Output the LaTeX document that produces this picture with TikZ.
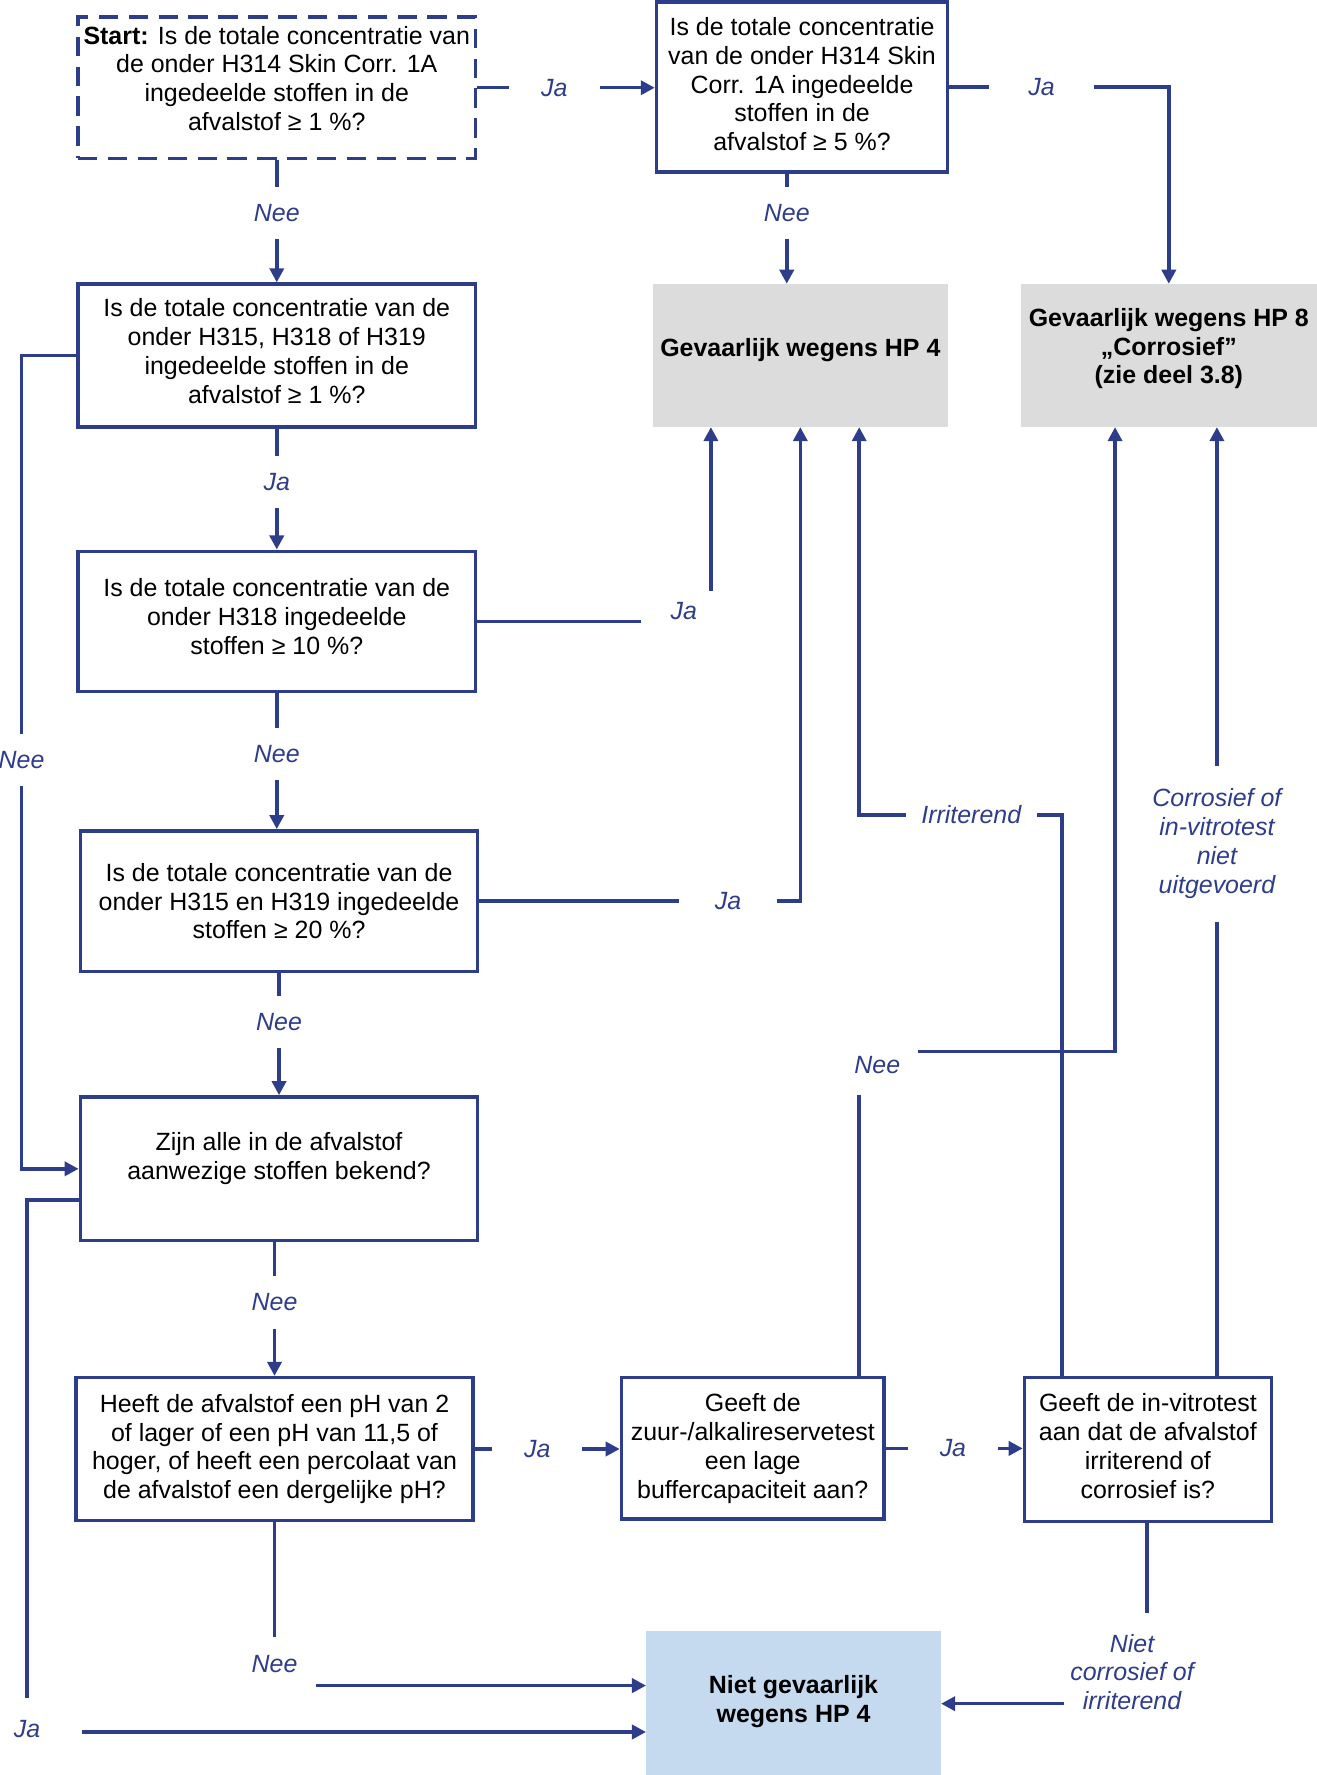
\documentclass[tikz,border=0pt]{standalone}
\usepackage{fontspec}
\setmainfont{Liberation Sans}
\usetikzlibrary{arrows.meta,calc}
\definecolor{LineClr}{RGB}{46,61,138}
\definecolor{GreyClr}{RGB}{220,220,220}
\definecolor{BlueClr}{RGB}{197,218,238}
\newcommand\pxl{0.022648cm}

\begin{document}
\begin{tikzpicture}[x=\pxl,y=-\pxl,
  every node/.style={font=\fontsize{14.2}{16.4}\selectfont,align=center,inner sep=2pt},
  qbox/.style={draw=LineClr,line width=2pt,fill=white},
  endbox/.style={fill=#1,font=\fontsize{14.2}{16.4}\selectfont\bfseries},
  conn/.style={draw=LineClr,line width=2pt,-{Triangle[length=8pt,width=8pt]}},
  lbl/.style={fill=white,inner sep=0pt,text=LineClr,font=\fontsize{14.2}{16.4}\selectfont\itshape,
    minimum width=80*\pxl,minimum height=46*\pxl}]
\useasboundingbox (0,0) rectangle (1163,1568);

\node[qbox,dashed,dash pattern=on 11pt off 6pt,minimum width=351*\pxl,minimum height=125*\pxl,text depth=10.8pt] (start) at (244.5,77.5)
  {\textbf{Start:} Is de totale concentratie van\\de onder H314 Skin Corr. 1A\\ingedeelde stoffen in de\\afvalstof ≥ 1 \%?};
\node[qbox,minimum width=257*\pxl,minimum height=150*\pxl,text depth=3.6pt] (q5) at (708.5,77)
  {Is de totale concentratie\\van de onder H314 Skin\\Corr. 1A ingedeelde\\stoffen in de\\afvalstof ≥ 5 \%?};
\node[endbox=GreyClr,minimum width=260*\pxl,minimum height=126*\pxl,text depth=9.4pt] (hp4) at (707,314) {Gevaarlijk wegens HP 4};
\node[endbox=GreyClr,minimum width=261*\pxl,minimum height=126*\pxl,text depth=10.8pt] (hp8) at (1032.5,314)
  {Gevaarlijk wegens HP 8\\„Corrosief”\\(zie deel 3.8)};
\node[qbox,minimum width=351*\pxl,minimum height=126*\pxl,text depth=5pt] (q1) at (244.5,314)
  {Is de totale concentratie van de\\onder H315, H318 of H319\\ingedeelde stoffen in de\\afvalstof ≥ 1 \%?};
\node[qbox,minimum width=351*\pxl,minimum height=124*\pxl,text depth=5.7pt] (q10) at (244.5,549)
  {Is de totale concentratie van de\\onder H318 ingedeelde\\stoffen ≥ 10 \%?};
\node[qbox,minimum width=351*\pxl,minimum height=124*\pxl] (q20) at (246.5,796)
  {Is de totale concentratie van de\\onder H315 en H319 ingedeelde\\stoffen ≥ 20 \%?};
\node[qbox,minimum width=351*\pxl,minimum height=127*\pxl,text depth=14.6pt] (known) at (246.5,1032.5)
  {Zijn alle in de afvalstof\\aanwezige stoffen bekend?};
\node[qbox,minimum width=351*\pxl,minimum height=126*\pxl] (ph) at (242.5,1280)
  {Heeft de afvalstof een pH van 2\\of lager of een pH van 11,5 of\\hoger, of heeft een percolaat van\\de afvalstof een dergelijke pH?};
\node[qbox,minimum width=232*\pxl,minimum height=125*\pxl] (buf) at (665,1279.5)
  {Geeft de\\zuur-/alkalireservetest\\een lage\\buffercapaciteit aan?};
\node[qbox,minimum width=218*\pxl,minimum height=127*\pxl,text depth=4pt] (vitro) at (1014,1280.5)
  {Geeft de in-vitrotest\\aan dat de afvalstof\\irriterend of\\corrosief is?};
\node[endbox=BlueClr,minimum width=260*\pxl,minimum height=129*\pxl,text depth=6pt] (safe) at (701,1505.5)
  {Niet gevaarlijk\\wegens HP 4};

\coordinate (nx) at (695,0);
\coordinate (lx) at (19,0);
\coordinate (ja0) at (24,1060);
\coordinate (ja1) at (24,1530);
\coordinate (ny) at (0,1489);
\coordinate (nj) at (759,929);
\coordinate (nd) at (985,929);
\coordinate (ir1) at (938,720);
\coordinate (ir2) at (759,720);
\coordinate (cx) at (1075,0);
\coordinate (nc) at (1013,1505);
\coordinate (j10) at (628,549);

\draw[conn] (start.east) -- node[lbl,pos=.434]{Ja} (start.east -| q5.west);
\draw[conn] (q5.east) -- node[lbl,pos=.42,minimum width=93*\pxl]{Ja} (q5.east -| hp8.north) -- (hp8.north);
\draw[conn] (start.south) -- node[lbl,pos=.43]{Nee} (q1.north);
\draw[conn] (q5.south -| nx) -- node[lbl,pos=.36]{Nee} (hp4.north -| nx);
\draw[conn] (q1.south) -- node[lbl,pos=.445]{Ja} (q10.north);
\draw[conn] (q10.south) -- node[lbl,pos=.447]{Nee} (q10.south |- q20.north);
\draw[conn] (q20.south) -- node[lbl,pos=.40]{Nee} (known.north);
\draw[conn] (known.south -| ph.north) -- node[lbl,pos=.45]{Nee} (ph.north);
\draw[conn] (q1.west) -- (q1.west -| lx) -- node[lbl,pos=.497]{Nee} (known.west -| lx) -- (known.west);
\draw[conn] (known.west |- ja0) -- (ja0) -- (ja1)
  node[lbl,yshift=3*\pxl,minimum width=96*\pxl,minimum height=54*\pxl]{Ja} -- (safe.west |- ja1);
\draw[conn] (ph.south) -- (ph.south |- ny)
  node[lbl,yshift=19*\pxl,minimum width=74*\pxl,minimum height=48*\pxl]{Nee} -- (safe.west |- ny);
\draw[conn] (ph.east) -- node[lbl,pos=.43]{Ja} (ph.east -| buf.west);
\draw[conn] (buf.east) -- node[lbl,pos=.49]{Ja} (buf.east -| vitro.west);
\draw[conn] (buf.north -| nj) -- (nj)
  node[lbl,xshift=16*\pxl,yshift=-12*\pxl,minimum width=72*\pxl,minimum height=52*\pxl]{Nee} -- (nd) -- (hp8.south -| nd);
\draw[conn] (vitro.north -| ir1) -- (ir1) -- node[lbl,pos=.447,minimum width=116*\pxl]{Irriterend} (ir2) -- (hp4.south -| ir2);
\draw[conn] (vitro.north -| cx) -- node[lbl,pos=.561,minimum width=130*\pxl,minimum height=138*\pxl]
  {Corrosief of\\in-vitrotest\\niet\\uitgevoerd} (hp8.south -| cx);
\draw[conn] (vitro.south -| nc) -- (nc)
  node[lbl,xshift=-13*\pxl,yshift=28*\pxl,minimum width=120*\pxl,minimum height=104*\pxl]{Niet\\corrosief of\\irriterend} -- (safe.east |- nc);
\draw[conn] (q10.east) -- (q10.east -| j10)
  node[lbl,xshift=-24*\pxl,yshift=9*\pxl,minimum width=76*\pxl,minimum height=36*\pxl]{Ja} -- (hp4.south -| j10);
\draw[conn] (q20.east) -- node[lbl,pos=.775,minimum width=86*\pxl]{Ja} (q20.east -| hp4.south) -- (hp4.south);
\end{tikzpicture}
\end{document}
